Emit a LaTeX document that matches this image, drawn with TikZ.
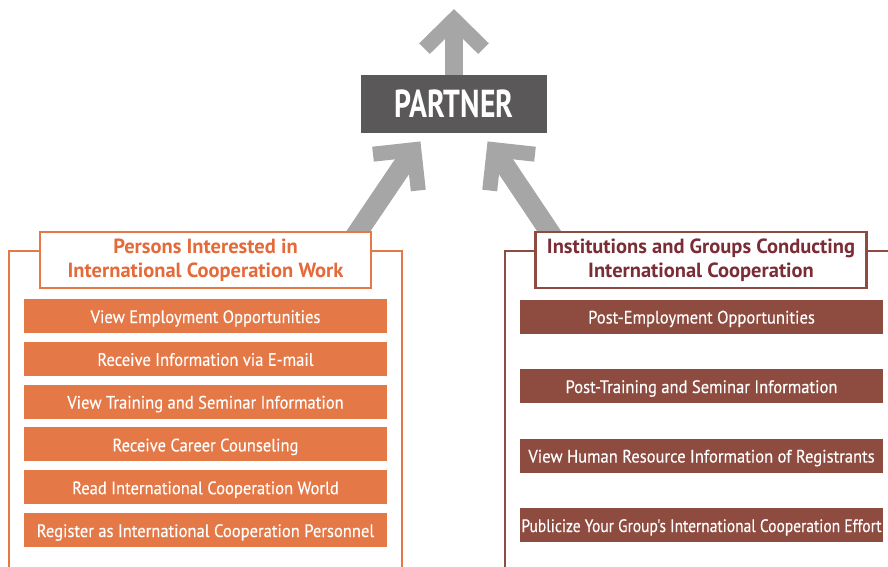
\documentclass[tikz,border=0pt]{standalone}
\usepackage{fontspec}
\setmainfont{PT Sans}
\newfontfamily\itemfont[FakeStretch=0.92,FakeBold=0.3]{PT Sans}
\newfontfamily\narrowfont[FakeStretch=0.86,FakeBold=0.3]{PT Sans}
\newfontfamily\headfont{PT Sans}
\newfontfamily\partnerfont[FakeStretch=0.76]{PT Sans}
\usetikzlibrary{positioning,backgrounds}

\definecolor{orangeitem}{HTML}{E57847}
\definecolor{orangetitle}{HTML}{E56A3A}
\definecolor{brownitem}{HTML}{8E4B3F}
\definecolor{browntitle}{HTML}{7B2D36}
\definecolor{partnergray}{HTML}{5A5858}
\definecolor{arrowgray}{HTML}{A6A6A6}

\begin{document}
\begin{tikzpicture}[x=1pt, y=-1pt, node distance=42.8pt,
    lbox/.style={fill=orangeitem, text=white, minimum width=363pt, minimum height=34pt, inner sep=0pt, text height=14pt, text depth=0pt, font=\itemfont\fontsize{18}{20}\selectfont},
    rbox/.style={lbox, fill=brownitem},
    ltitle/.style={draw=orangeitem, line width=2.5pt, fill=white, text=orangetitle, align=center, minimum width=331pt, minimum height=56pt, inner sep=0pt, font=\headfont\bfseries\fontsize{20.5}{24}\selectfont},
    rtitle/.style={ltitle, draw=brownitem, text=browntitle},
    lframe/.style={draw=orangeitem, line width=2.5pt},
    rframe/.style={draw=brownitem, line width=2.5pt},
    shaft/.style={draw=arrowgray, line width=20pt},
    chev/.style={draw=arrowgray, line width=15pt, miter limit=4}]
    \useasboundingbox (0,0) rectangle (888,567);

    % partner in the middle
    \node[fill=partnergray, text=white, minimum width=186pt, minimum height=58pt, inner sep=0pt, font=\partnerfont\bfseries\fontsize{39}{39}\selectfont] (partner) at (454,104) {PARTNER};

    % left column
    \node[ltitle] (lhead) at (205.5,260) {Persons Interested in\\International Cooperation Work};
    \node[lbox] (l1) at (205.5,316) {View Employment Opportunities};
    \node[lbox, below of=l1] (l2) {Receive Information via E-mail};
    \node[lbox, below of=l2] (l3) {View Training and Seminar Information};
    \node[lbox, below of=l3] (l4) {Receive Career Counseling};
    \node[lbox, below of=l4] (l5) {Read International Cooperation World};
    \node[lbox, below of=l5] (l6) {Register as International Cooperation Personnel};

    % right column
    \node[rtitle] (rhead) at (701,260) {Institutions and Groups Conducting\\International Cooperation};
    \node[rbox] (r1) at (701.5,316.5) {Post-Employment Opportunities};
    \node[rbox, below of=r1, node distance=69.5pt] (r2) {Post-Training and Seminar Information};
    \node[rbox, below of=r2, node distance=69.5pt] (r3) {View Human Resource Information of Registrants};
    \node[rbox, below of=r3, node distance=69.5pt, font=\narrowfont\fontsize{18}{20}\selectfont] (r4) {Publicize Your Group's International Cooperation Effort};

    % panel frames
    \begin{scope}[on background layer]
        \draw[lframe] (lhead.west |- 0,251) -| (9,575);
        \draw[lframe] (lhead.east |- 0,251) -| (402,575);
        \draw[rframe] (rhead.west |- 0,251) -| (505,575);
        \draw[rframe] (rhead.east |- 0,251) -- (895,251);

        % big gray arrows
        \coordinate (ltip) at (413.8,149.7);
        \coordinate (rtip) at (494.2,149.7);
        \coordinate (ttip) at (454,19.6);
        \draw[shaft] ([xshift=-23pt,yshift=-14pt]lhead.north east) -- ([shift={(-1.9,2.3)}]ltip);
        \draw[chev] (ltip) ++(-40.8,4.5) -- (ltip) -- ++(4.5,40.8);
        \draw[shaft] ([xshift=24pt,yshift=-14pt]rhead.north west) -- ([shift={(1.9,2.3)}]rtip);
        \draw[chev] (rtip) ++(40.8,4.5) -- (rtip) -- ++(-4.5,40.8);
        \draw[shaft, line width=18pt] (partner.north) -- ([yshift=-3pt]ttip);
        \draw[chev] (ttip) ++(-29.5,29) -- (ttip) -- ++(29.5,29);
    \end{scope}
\end{tikzpicture}
\end{document}
